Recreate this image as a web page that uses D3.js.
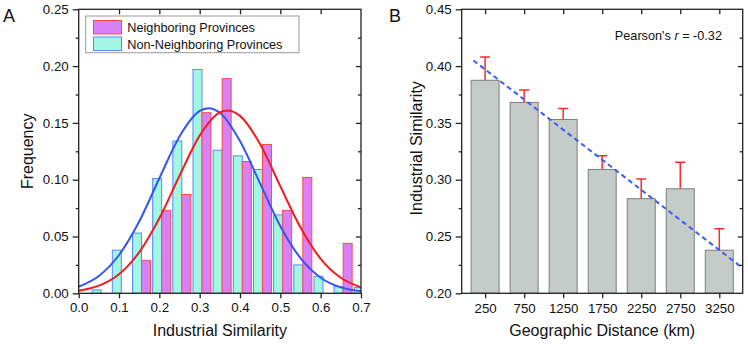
<!DOCTYPE html>
<html>
<head>
<meta charset="utf-8">
<script src="https://cdn.jsdelivr.net/npm/d3@7"></script>
<style>
  body { margin: 0; background: #fff; }
  text { font-family: "Liberation Sans", Arial, sans-serif; fill: #111; }
</style>
</head>
<body>
<div id="main"></div>
<script>
'use strict'

// Panel A: histogram of industrial similarity (bins of 0.05)
const binMids = [0.05, 0.10, 0.15, 0.20, 0.25, 0.30, 0.35, 0.40, 0.45, 0.50, 0.55, 0.60, 0.65, 0.70];
const nonNeighbor = [0.003, 0.038, 0.053, 0.101, 0.134, 0.197, 0.126, 0.121, 0.109, 0.069, 0.025, 0.015, 0.006, 0.005];
const neighbor    = [0,     0,     0.029, 0.073, 0.087, 0.159, 0.189, 0.116, 0.131, 0.073, 0.102, 0,     0.044, 0];

// fitted normal curves
const blueX = [0, 0.05, 0.10, 0.15, 0.20, 0.25, 0.30, 0.322, 0.35, 0.40, 0.45, 0.50, 0.55, 0.60, 0.65, 0.70];
const blueY = [0.0059, 0.0153, 0.0337, 0.0632, 0.1013, 0.138, 0.1605, 0.163, 0.159, 0.134, 0.0965, 0.0591, 0.0309, 0.0137, 0.0052, 0.0017];
const redX  = [0, 0.05, 0.10, 0.15, 0.20, 0.25, 0.30, 0.35, 0.369, 0.40, 0.45, 0.50, 0.55, 0.60, 0.65, 0.70];
const redY  = [0.0023, 0.0067, 0.0168, 0.0361, 0.066, 0.1035, 0.1388, 0.1592, 0.161, 0.1562, 0.1312, 0.0942, 0.0579, 0.0304, 0.0137, 0.0053];

const xTicksA = [0, 0.1, 0.2, 0.3, 0.4, 0.5, 0.6, 0.7];
const yTicksA = [0, 0.05, 0.10, 0.15, 0.20, 0.25];

// Panel B: similarity vs distance
const distances  = [250, 750, 1250, 1750, 2250, 2750, 3250];
const similarity = [0.3875, 0.368, 0.353, 0.309, 0.2833, 0.292, 0.2379];
const errors     = [0.0205, 0.011, 0.0096, 0.012, 0.0173, 0.0233, 0.019];
const fitX = [100, 3525];
const fitY = [0.405, 0.2235];
const yTicksB = [0.20, 0.25, 0.30, 0.35, 0.40, 0.45];

const svg = d3.select('#main').append('svg')
  .attr('width', 748).attr('height', 345);

function minorTicks(major) {
  let out = [];
  for (let i = 0; i < major.length - 1; i++) out.push((major[i] + major[i + 1]) / 2);
  return out;
}

function styleAxis(g) {
  g.select('.domain').remove();
  g.selectAll('line').attr('stroke', '#222').attr('stroke-width', 1.3);
  g.selectAll('text').style('font-size', '13.3px').attr('fill', '#111');
}

//---------------- Panel A ----------------
const ax = { left: 78.7, right: 361, top: 9.3, bottom: 293.3 };
const xA = d3.scaleLinear().domain([0, 0.7]).range([ax.left, ax.right]);
const yA = d3.scaleLinear().domain([0, 0.25]).range([ax.bottom, ax.top]);

svg.append('clipPath').attr('id', 'clipA').append('rect')
  .attr('x', ax.left).attr('y', ax.top)
  .attr('width', ax.right - ax.left).attr('height', ax.bottom - ax.top);

const gA = svg.append('g').attr('clip-path', 'url(#clipA)');
const barW = 9;

gA.selectAll('rect.non')
  .data(binMids.map((m, i) => ({ m: m, v: nonNeighbor[i] })).filter(d => d.v > 0))
  .enter().append('rect')
  .attr('class', 'non')
  .attr('x', d => xA(d.m) - 6.7)
  .attr('y', d => yA(d.v))
  .attr('width', barW)
  .attr('height', d => yA(0) - yA(d.v))
  .attr('fill', '#a2f7e3')
  .attr('stroke', '#5a86ff')
  .attr('stroke-width', 1);

gA.selectAll('rect.nb')
  .data(binMids.map((m, i) => ({ m: m, v: neighbor[i] })).filter(d => d.v > 0))
  .enter().append('rect')
  .attr('class', 'nb')
  .attr('x', d => xA(d.m) + 2.3)
  .attr('y', d => yA(d.v))
  .attr('width', barW)
  .attr('height', d => yA(0) - yA(d.v))
  .attr('fill', '#d880f6')
  .attr('stroke', '#ff4a4a')
  .attr('stroke-width', 1);

const lineA = d3.line().x(d => xA(d[0])).y(d => yA(d[1])).curve(d3.curveMonotoneX);
gA.append('path').datum(blueX.map((x, i) => [x, blueY[i]]))
  .attr('d', lineA).attr('fill', 'none').attr('stroke', '#3455f2').attr('stroke-width', 2);
gA.append('path').datum(redX.map((x, i) => [x, redY[i]]))
  .attr('d', lineA).attr('fill', 'none').attr('stroke', '#f21d1d').attr('stroke-width', 2);

// axes A
svg.append('g').attr('transform', `translate(0,${ax.bottom})`)
  .call(d3.axisBottom(xA).tickValues(xTicksA).tickSize(5).tickPadding(4).tickFormat(d3.format('.1f')))
  .call(styleAxis);
svg.append('g').attr('transform', `translate(0,${ax.top})`)
  .call(d3.axisBottom(xA).tickValues(xTicksA.slice(1, -1)).tickSize(5).tickFormat(''))
  .call(styleAxis);
svg.append('g').attr('transform', `translate(${ax.left},0)`)
  .call(d3.axisLeft(yA).tickValues(yTicksA).tickSize(6).tickPadding(4).tickFormat(d3.format('.2f')))
  .call(styleAxis);
svg.append('g').attr('transform', `translate(${ax.left},0)`)
  .call(d3.axisLeft(yA).tickValues(minorTicks(yTicksA)).tickSize(3).tickFormat(''))
  .call(styleAxis);
svg.append('g').attr('transform', `translate(${ax.right},0)`)
  .call(d3.axisLeft(yA).tickValues(yTicksA.slice(1, -1)).tickSize(5).tickFormat(''))
  .call(styleAxis);
svg.append('g').attr('transform', `translate(${ax.right},0)`)
  .call(d3.axisLeft(yA).tickValues(minorTicks(yTicksA)).tickSize(3).tickFormat(''))
  .call(styleAxis);

svg.append('rect')
  .attr('x', ax.left).attr('y', ax.top)
  .attr('width', ax.right - ax.left).attr('height', ax.bottom - ax.top)
  .attr('fill', 'none').attr('stroke', '#222').attr('stroke-width', 1.3);

// legend A
const leg = svg.append('g');
leg.append('rect').attr('x', 85.7).attr('y', 16).attr('width', 213.3).attr('height', 36.7)
  .attr('fill', '#fff').attr('stroke', '#999').attr('stroke-width', 1);
leg.append('rect').attr('x', 93.5).attr('y', 20.5).attr('width', 28).attr('height', 13.5)
  .attr('fill', '#d880f6').attr('stroke', '#ff4a4a').attr('stroke-width', 1);
leg.append('rect').attr('x', 93.5).attr('y', 37).attr('width', 28).attr('height', 13.5)
  .attr('fill', '#a2f7e3').attr('stroke', '#5a86ff').attr('stroke-width', 1);
leg.append('text').attr('x', 127.3).attr('y', 32.2).style('font-size', '12.7px').text('Neighboring Provinces');
leg.append('text').attr('x', 127.3).attr('y', 48.8).style('font-size', '12.7px').text('Non-Neighboring Provinces');

svg.append('text').attr('x', (ax.left + ax.right) / 2).attr('y', 336)
  .attr('text-anchor', 'middle').style('font-size', '16px').text('Industrial Similarity');
svg.append('text').attr('transform', `translate(33,${(ax.top + ax.bottom) / 2}) rotate(-90)`)
  .attr('text-anchor', 'middle').style('font-size', '16px').text('Frequency');
svg.append('text').attr('x', 3).attr('y', 22).style('font-size', '18px').text('A');

//---------------- Panel B ----------------
const bx = { left: 461.7, right: 742.7, top: 9.3, bottom: 293.3 };
const xB = d3.scaleLinear().domain([-50, 3550]).range([bx.left, bx.right]);
const yB = d3.scaleLinear().domain([0.20, 0.45]).range([bx.bottom, bx.top]);

svg.append('clipPath').attr('id', 'clipB').append('rect')
  .attr('x', bx.left).attr('y', bx.top)
  .attr('width', bx.right - bx.left).attr('height', bx.bottom - bx.top);
const gB = svg.append('g').attr('clip-path', 'url(#clipB)');

const dataB = distances.map((d, i) => ({ d: d, v: similarity[i], e: errors[i] }));
const bW = 28;

// error bars (upper only)
gB.selectAll('line.err').data(dataB).enter().append('line')
  .attr('x1', d => xB(d.d)).attr('x2', d => xB(d.d))
  .attr('y1', d => yB(d.v)).attr('y2', d => yB(d.v + d.e))
  .attr('stroke', '#ff2a2a').attr('stroke-width', 1.5);
gB.selectAll('line.cap').data(dataB).enter().append('line')
  .attr('x1', d => xB(d.d) - 5).attr('x2', d => xB(d.d) + 5)
  .attr('y1', d => yB(d.v + d.e)).attr('y2', d => yB(d.v + d.e))
  .attr('stroke', '#ff2a2a').attr('stroke-width', 1.5);

gB.selectAll('rect.bar').data(dataB).enter().append('rect')
  .attr('x', d => xB(d.d) - bW / 2)
  .attr('y', d => yB(d.v))
  .attr('width', bW)
  .attr('height', d => yB(0.20) - yB(d.v))
  .attr('fill', '#c4cbc8')
  .attr('stroke', '#7d7f7e')
  .attr('stroke-width', 1);

gB.append('path').datum(fitX.map((x, i) => [x, fitY[i]]))
  .attr('d', d3.line().x(d => xB(d[0])).y(d => yB(d[1])))
  .attr('fill', 'none').attr('stroke', '#3a5cf5').attr('stroke-width', 2)
  .attr('stroke-dasharray', '5,3.5');

// axes B
svg.append('g').attr('transform', `translate(0,${bx.bottom})`)
  .call(d3.axisBottom(xB).tickValues(distances).tickSize(5).tickPadding(5).tickFormat(d3.format('d')))
  .call(styleAxis);
svg.append('g').attr('transform', `translate(0,${bx.top})`)
  .call(d3.axisBottom(xB).tickValues(distances).tickSize(5).tickFormat(''))
  .call(styleAxis);
svg.append('g').attr('transform', `translate(${bx.left},0)`)
  .call(d3.axisLeft(yB).tickValues(yTicksB).tickSize(6).tickPadding(4).tickFormat(d3.format('.2f')))
  .call(styleAxis);
svg.append('g').attr('transform', `translate(${bx.left},0)`)
  .call(d3.axisLeft(yB).tickValues(minorTicks(yTicksB)).tickSize(3).tickFormat(''))
  .call(styleAxis);
svg.append('g').attr('transform', `translate(${bx.right},0)`)
  .call(d3.axisLeft(yB).tickValues(yTicksB.slice(1, -1)).tickSize(5).tickFormat(''))
  .call(styleAxis);
svg.append('g').attr('transform', `translate(${bx.right},0)`)
  .call(d3.axisLeft(yB).tickValues(minorTicks(yTicksB)).tickSize(3).tickFormat(''))
  .call(styleAxis);

svg.append('rect')
  .attr('x', bx.left).attr('y', bx.top)
  .attr('width', bx.right - bx.left).attr('height', bx.bottom - bx.top)
  .attr('fill', 'none').attr('stroke', '#222').attr('stroke-width', 1.3);

const pear = svg.append('text').attr('x', 722).attr('y', 40)
  .attr('text-anchor', 'end').style('font-size', '12.7px');
pear.append('tspan').text("Pearson's ");
pear.append('tspan').style('font-style', 'italic').text('r');
pear.append('tspan').text(' = -0.32');

svg.append('text').attr('x', (bx.left + bx.right) / 2).attr('y', 336)
  .attr('text-anchor', 'middle').style('font-size', '16px').text('Geographic Distance (km)');
svg.append('text').attr('transform', `translate(421.5,${(bx.top + bx.bottom) / 2 - 3}) rotate(-90)`)
  .attr('text-anchor', 'middle').style('font-size', '16px').text('Industrial Similarity');
svg.append('text').attr('x', 389).attr('y', 22).style('font-size', '18px').text('B');
</script>
</body>
</html>
